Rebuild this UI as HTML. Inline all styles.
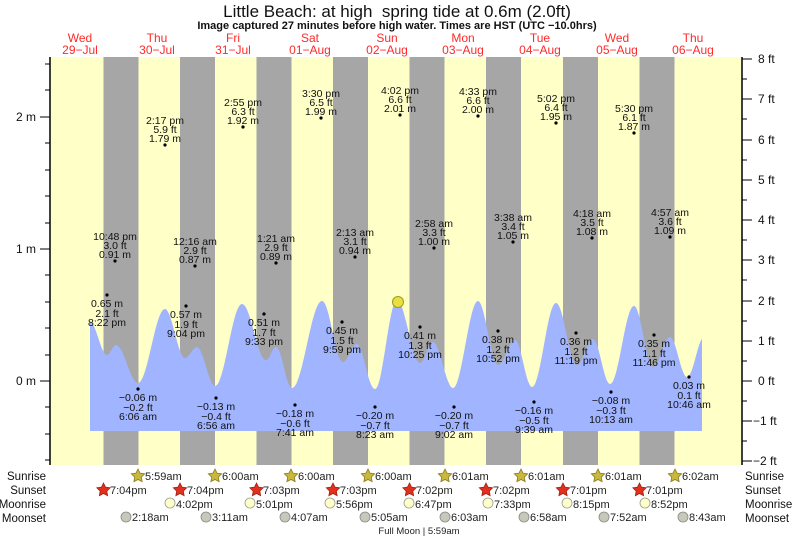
<!DOCTYPE html>
<html><head><meta charset="utf-8"><style>
html,body{margin:0;padding:0;background:#fff;}
svg{display:block;font-family:"Liberation Sans",sans-serif;}
.s{font-size:10.5px;fill:#111;text-anchor:middle;}
.r{font-size:12px;fill:#ff2a2a;text-anchor:middle;}
.a{font-size:12px;fill:#111;}
.c{font-size:11.5px;fill:#111;}
.b{font-size:11px;fill:#222;}
</style></head><body>
<svg width="793" height="539" viewBox="0 0 793 539" xmlns="http://www.w3.org/2000/svg">
<defs>
<polygon id="st" points="0,-7 2.06,-2.83 6.66,-2.16 3.33,1.08 4.11,5.66 0,3.5 -4.11,5.66 -3.33,1.08 -6.66,-2.16 -2.06,-2.83"/>
</defs>
<text x="397" y="17" font-size="17" text-anchor="middle" fill="#111">Little Beach: at high&#160; spring tide at 0.6m (2.0ft)</text>
<text x="397" y="29" font-size="11" font-weight="bold" text-anchor="middle" fill="#111">Image captured 27 minutes before high water. Times are HST (UTC −10.0hrs)</text>
<g class="r">
<text x="80" y="42">Wed</text><text x="80" y="54">29−Jul</text>
<text x="157" y="42">Thu</text><text x="157" y="54">30−Jul</text>
<text x="233" y="42">Fri</text><text x="233" y="54">31−Jul</text>
<text x="310" y="42">Sat</text><text x="310" y="54">01−Aug</text>
<text x="387" y="42">Sun</text><text x="387" y="54">02−Aug</text>
<text x="463" y="42">Mon</text><text x="463" y="54">03−Aug</text>
<text x="540" y="42">Tue</text><text x="540" y="54">04−Aug</text>
<text x="617" y="42">Wed</text><text x="617" y="54">05−Aug</text>
<text x="693" y="42">Thu</text><text x="693" y="54">06−Aug</text>
</g>
<rect x="50" y="57" width="692" height="408" fill="#ffffc8"/>
<g fill="#a6a6a6">
<rect x="103.5" y="57" width="35" height="408"/>
<rect x="180" y="57" width="35" height="408"/>
<rect x="256.5" y="57" width="35" height="408"/>
<rect x="333" y="57" width="35" height="408"/>
<rect x="409.5" y="57" width="35" height="408"/>
<rect x="486" y="57" width="35" height="408"/>
<rect x="563" y="57" width="35" height="408"/>
<rect x="639.5" y="57" width="35" height="408"/>
</g>
<path fill="#a0b4ff" d="M90,322 C96,322 101,355 107,355 C110,355 113,345 116,345 C124,345 130,383 138,383 C148,383 155,309 165,309 C172,309 178,358 185,358 C189,358 193,347 197,347 C203,347 209,386 215,386 C225,386 232,304 242,304 C251,304 257,360 266,360 C270,360 272,347 276,347 C282,347 286,388 292,388 C303,388 311,301 322,301 C330,301 335,362 343,362 C348,362 352,344 357,344 C363,344 368,389 375,389 C383,389 389,300 397,300 C405,300 412,363 420,363 C425,363 428,342 433,342 C440,342 446,388 453,388 C462,388 469,301 478,301 C485,301 491,365 498,365 C504,365 509,340 515,340 C521,340 526,387 532,387 C541,387 547,303 556,303 C564,303 569,365 577,365 C583,365 587,339 593,339 C599,339 604,384 610,384 C619,384 625,306 634,306 C641,306 646,367 653,367 C659,367 664,337 670,337 C676,337 681,377 687,377 C693,377 697,345 702,339 L702,431 L90,431 Z"/>
<circle cx="398" cy="302" r="5.5" fill="#e8e040" stroke="#a09a20" stroke-width="1"/>
<g stroke="#000" stroke-width="1.5">
<line x1="50" y1="57" x2="50" y2="465"/>
<line x1="742" y1="57" x2="742" y2="465"/>
</g>
<g stroke="#000" stroke-width="1">
<line x1="40" y1="117" x2="50" y2="117"/><line x1="40" y1="249" x2="50" y2="249"/><line x1="40" y1="381" x2="50" y2="381"/>
<line x1="45" y1="64" x2="50" y2="64"/><line x1="45" y1="90" x2="50" y2="90"/><line x1="45" y1="143" x2="50" y2="143"/><line x1="45" y1="170" x2="50" y2="170"/><line x1="45" y1="196" x2="50" y2="196"/><line x1="45" y1="223" x2="50" y2="223"/><line x1="45" y1="275" x2="50" y2="275"/><line x1="45" y1="302" x2="50" y2="302"/><line x1="45" y1="328" x2="50" y2="328"/><line x1="45" y1="355" x2="50" y2="355"/><line x1="45" y1="407" x2="50" y2="407"/><line x1="45" y1="434" x2="50" y2="434"/><line x1="45" y1="460" x2="50" y2="460"/>
<line x1="742" y1="59" x2="752" y2="59"/><line x1="742" y1="99" x2="752" y2="99"/><line x1="742" y1="140" x2="752" y2="140"/><line x1="742" y1="180" x2="752" y2="180"/><line x1="742" y1="220" x2="752" y2="220"/><line x1="742" y1="260" x2="752" y2="260"/><line x1="742" y1="301" x2="752" y2="301"/><line x1="742" y1="341" x2="752" y2="341"/><line x1="742" y1="381" x2="752" y2="381"/><line x1="742" y1="421" x2="752" y2="421"/><line x1="742" y1="461" x2="752" y2="461"/>
<line x1="742" y1="79" x2="747" y2="79"/><line x1="742" y1="119" x2="747" y2="119"/><line x1="742" y1="160" x2="747" y2="160"/><line x1="742" y1="200" x2="747" y2="200"/><line x1="742" y1="240" x2="747" y2="240"/><line x1="742" y1="280" x2="747" y2="280"/><line x1="742" y1="321" x2="747" y2="321"/><line x1="742" y1="361" x2="747" y2="361"/><line x1="742" y1="401" x2="747" y2="401"/><line x1="742" y1="441" x2="747" y2="441"/>
</g>
<g class="a" text-anchor="end">
<text x="36" y="121">2 m</text><text x="36" y="253">1 m</text><text x="36" y="385">0 m</text>
</g>
<g class="a">
<text x="758" y="63">8 ft</text><text x="758" y="103">7 ft</text><text x="758" y="144">6 ft</text><text x="758" y="184">5 ft</text><text x="758" y="224">4 ft</text><text x="758" y="264">3 ft</text><text x="758" y="305">2 ft</text><text x="758" y="345">1 ft</text><text x="758" y="385">0 ft</text><text x="753" y="425">−1 ft</text><text x="753" y="465">−2 ft</text>
</g>
<g fill="#000">
<circle cx="165" cy="145" r="1.6"/><circle cx="243" cy="127" r="1.6"/><circle cx="321" cy="118" r="1.6"/><circle cx="400" cy="115" r="1.6"/><circle cx="478" cy="116" r="1.6"/><circle cx="556" cy="123" r="1.6"/><circle cx="634" cy="133" r="1.6"/>
<circle cx="115" cy="261" r="1.6"/><circle cx="195" cy="266" r="1.6"/><circle cx="276" cy="263" r="1.6"/><circle cx="355" cy="257" r="1.6"/><circle cx="434" cy="248" r="1.6"/><circle cx="513" cy="242" r="1.6"/><circle cx="592" cy="238" r="1.6"/><circle cx="670" cy="237" r="1.6"/>
<circle cx="138" cy="389" r="1.6"/><circle cx="216" cy="398" r="1.6"/><circle cx="295" cy="405" r="1.6"/><circle cx="375" cy="407" r="1.6"/><circle cx="454" cy="407" r="1.6"/><circle cx="534" cy="402" r="1.6"/><circle cx="611" cy="392" r="1.6"/><circle cx="689" cy="377" r="1.6"/>
<circle cx="107" cy="295" r="1.6"/><circle cx="186" cy="306" r="1.6"/><circle cx="264" cy="314" r="1.6"/><circle cx="342" cy="322" r="1.6"/><circle cx="420" cy="327" r="1.6"/><circle cx="498" cy="331" r="1.6"/><circle cx="576" cy="333" r="1.6"/><circle cx="654" cy="335" r="1.6"/>
</g>
<g class="s">
<text x="165" y="124">2:17 pm</text><text x="165" y="133">5.9 ft</text><text x="165" y="142">1.79 m</text>
<text x="243" y="106">2:55 pm</text><text x="243" y="115">6.3 ft</text><text x="243" y="124">1.92 m</text>
<text x="321" y="97">3:30 pm</text><text x="321" y="106">6.5 ft</text><text x="321" y="115">1.99 m</text>
<text x="400" y="94">4:02 pm</text><text x="400" y="103">6.6 ft</text><text x="400" y="112">2.01 m</text>
<text x="478" y="95">4:33 pm</text><text x="478" y="104">6.6 ft</text><text x="478" y="113">2.00 m</text>
<text x="556" y="102">5:02 pm</text><text x="556" y="111">6.4 ft</text><text x="556" y="120">1.95 m</text>
<text x="634" y="112">5:30 pm</text><text x="634" y="121">6.1 ft</text><text x="634" y="130">1.87 m</text>
<text x="115" y="240">10:48 pm</text><text x="115" y="249">3.0 ft</text><text x="115" y="258">0.91 m</text>
<text x="195" y="245">12:16 am</text><text x="195" y="254">2.9 ft</text><text x="195" y="263">0.87 m</text>
<text x="276" y="242">1:21 am</text><text x="276" y="251">2.9 ft</text><text x="276" y="260">0.89 m</text>
<text x="355" y="236">2:13 am</text><text x="355" y="245">3.1 ft</text><text x="355" y="254">0.94 m</text>
<text x="434" y="227">2:58 am</text><text x="434" y="236">3.3 ft</text><text x="434" y="245">1.00 m</text>
<text x="513" y="221">3:38 am</text><text x="513" y="230">3.4 ft</text><text x="513" y="239">1.05 m</text>
<text x="592" y="217">4:18 am</text><text x="592" y="226">3.5 ft</text><text x="592" y="235">1.08 m</text>
<text x="670" y="216">4:57 am</text><text x="670" y="225">3.6 ft</text><text x="670" y="234">1.09 m</text>
<text x="138" y="401">−0.06 m</text><text x="138" y="411">−0.2 ft</text><text x="138" y="420">6:06 am</text>
<text x="216" y="410">−0.13 m</text><text x="216" y="420">−0.4 ft</text><text x="216" y="429">6:56 am</text>
<text x="295" y="417">−0.18 m</text><text x="295" y="427">−0.6 ft</text><text x="295" y="436">7:41 am</text>
<text x="375" y="419">−0.20 m</text><text x="375" y="429">−0.7 ft</text><text x="375" y="438">8:23 am</text>
<text x="454" y="419">−0.20 m</text><text x="454" y="429">−0.7 ft</text><text x="454" y="438">9:02 am</text>
<text x="534" y="414">−0.16 m</text><text x="534" y="424">−0.5 ft</text><text x="534" y="433">9:39 am</text>
<text x="611" y="404">−0.08 m</text><text x="611" y="414">−0.3 ft</text><text x="611" y="423">10:13 am</text>
<text x="689" y="389">0.03 m</text><text x="689" y="399">0.1 ft</text><text x="689" y="408">10:46 am</text>
<text x="107" y="307">0.65 m</text><text x="107" y="317">2.1 ft</text><text x="107" y="326">8:22 pm</text>
<text x="186" y="318">0.57 m</text><text x="186" y="328">1.9 ft</text><text x="186" y="337">9:04 pm</text>
<text x="264" y="326">0.51 m</text><text x="264" y="336">1.7 ft</text><text x="264" y="345">9:33 pm</text>
<text x="342" y="334">0.45 m</text><text x="342" y="344">1.5 ft</text><text x="342" y="353">9:59 pm</text>
<text x="420" y="339">0.41 m</text><text x="420" y="349">1.3 ft</text><text x="420" y="358">10:25 pm</text>
<text x="498" y="343">0.38 m</text><text x="498" y="353">1.2 ft</text><text x="498" y="362">10:52 pm</text>
<text x="576" y="345">0.36 m</text><text x="576" y="355">1.2 ft</text><text x="576" y="364">11:19 pm</text>
<text x="654" y="347">0.35 m</text><text x="654" y="357">1.1 ft</text><text x="654" y="366">11:46 pm</text>
</g>
<g class="c" text-anchor="end">
<text x="46" y="480">Sunrise</text><text x="46" y="494">Sunset</text><text x="46" y="508">Moonrise</text><text x="46" y="522">Moonset</text>
</g>
<g class="c">
<text x="745" y="480">Sunrise</text><text x="745" y="494">Sunset</text><text x="745" y="508">Moonrise</text><text x="745" y="522">Moonset</text>
</g>
<g fill="#c8b83c" stroke="#8a7a20" stroke-width="0.8">
<use href="#st" x="138" y="476"/><use href="#st" x="215" y="476"/><use href="#st" x="291" y="476"/><use href="#st" x="368" y="476"/><use href="#st" x="445" y="476"/><use href="#st" x="521" y="476"/><use href="#st" x="598" y="476"/><use href="#st" x="675" y="476"/>
</g>
<g fill="#e03020" stroke="#a02010" stroke-width="0.8">
<use href="#st" x="103.5" y="490"/><use href="#st" x="180" y="490"/><use href="#st" x="256.5" y="490"/><use href="#st" x="333" y="490"/><use href="#st" x="409.5" y="490"/><use href="#st" x="486" y="490"/><use href="#st" x="563" y="490"/><use href="#st" x="639.5" y="490"/>
</g>
<g fill="#ffffc8" stroke="#999" stroke-width="0.8">
<circle cx="170" cy="503" r="5"/><circle cx="250" cy="503" r="5"/><circle cx="330" cy="503" r="5"/><circle cx="409" cy="503" r="5"/><circle cx="488" cy="503" r="5"/><circle cx="567" cy="503" r="5"/><circle cx="645" cy="503" r="5"/>
</g>
<g fill="#c8c8b8" stroke="#888" stroke-width="0.8">
<circle cx="126" cy="517" r="5"/><circle cx="206" cy="517" r="5"/><circle cx="285" cy="517" r="5"/><circle cx="365" cy="517" r="5"/><circle cx="445" cy="517" r="5"/><circle cx="524" cy="517" r="5"/><circle cx="604" cy="517" r="5"/><circle cx="683" cy="517" r="5"/>
</g>
<g class="b">
<text x="145" y="480">5:59am</text><text x="222" y="480">6:00am</text><text x="298" y="480">6:00am</text><text x="375" y="480">6:00am</text><text x="452" y="480">6:01am</text><text x="528" y="480">6:01am</text><text x="605" y="480">6:01am</text><text x="682" y="480">6:02am</text>
<text x="110" y="494">7:04pm</text><text x="187" y="494">7:04pm</text><text x="263" y="494">7:03pm</text><text x="340" y="494">7:03pm</text><text x="416" y="494">7:02pm</text><text x="493" y="494">7:02pm</text><text x="570" y="494">7:01pm</text><text x="646" y="494">7:01pm</text>
<text x="176" y="508">4:02pm</text><text x="256" y="508">5:01pm</text><text x="336" y="508">5:56pm</text><text x="415" y="508">6:47pm</text><text x="494" y="508">7:33pm</text><text x="573" y="508">8:15pm</text><text x="651" y="508">8:52pm</text>
<text x="132" y="521">2:18am</text><text x="212" y="521">3:11am</text><text x="291" y="521">4:07am</text><text x="371" y="521">5:05am</text><text x="451" y="521">6:03am</text><text x="530" y="521">6:58am</text><text x="610" y="521">7:52am</text><text x="689" y="521">8:43am</text>
</g>
<text x="419" y="534" font-size="9.5" text-anchor="middle" fill="#222">Full Moon | 5:59am</text>
</svg>
</body></html>
